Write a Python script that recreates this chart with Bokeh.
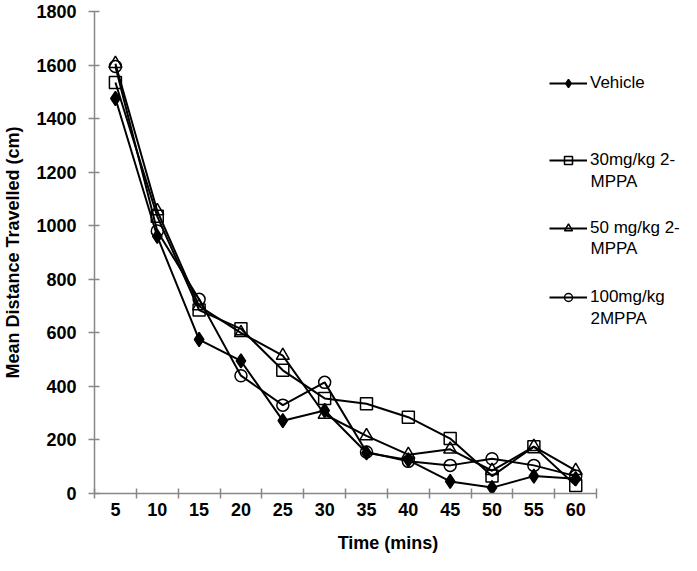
from bokeh.plotting import figure
from bokeh.models import Range1d, FixedTicker, Legend, LegendItem, Label
from bokeh.embed import file_html
from bokeh.resources import INLINE

times = [5, 10, 15, 20, 25, 30, 35, 40, 45, 50, 55, 60]
vehicle = [1475, 960, 575, 495, 272, 310, 152, 125, 45, 22, 65, 55]
mg30 = [1535, 1035, 685, 615, 460, 355, 335, 285, 205, 65, 175, 30]
mg50 = [1605, 1055, 700, 600, 515, 295, 215, 145, 165, 85, 175, 85]
mg100 = [1595, 980, 725, 440, 330, 415, 155, 120, 105, 130, 105, 65]
y_ticks = [0, 200, 400, 600, 800, 1000, 1200, 1400, 1600, 1800]

labels_first = ["Vehicle", "30mg/kg 2-", "50 mg/kg 2-", "100mg/kg"]
labels_second = [None, "MPPA", "MPPA", "2MPPA"]

FONT = "Liberation Sans"
AX = "#878787"

W, H = 681, 555
LEFT, TOP, BOTTOM = 93, 11, 59
AXIS_PX = 503  # width of the category axis in pixels

half = (times[1] - times[0]) / 2
x_start = times[0] - half
x_stop = times[-1] + half
frame_w = W - LEFT
x_end = x_start + (x_stop - x_start) * frame_w / AXIS_PX

p = figure(width=W, height=H, output_backend="svg", toolbar_location=None,
           x_range=Range1d(x_start, x_end), y_range=Range1d(0, 1800),
           min_border_left=LEFT, min_border_right=0, min_border_top=TOP,
           min_border_bottom=BOTTOM)
p.outline_line_color = None
p.xgrid.visible = False
p.ygrid.visible = False

bounds = [t - half for t in times] + [x_stop]

xa = p.xaxis[0]
xa.bounds = (x_start, x_stop)
xa.ticker = FixedTicker(ticks=times, minor_ticks=bounds)
xa.major_tick_in = 0
xa.major_tick_out = 0
xa.minor_tick_in = 5
xa.minor_tick_out = 5
xa.minor_tick_line_color = AX
xa.axis_line_color = AX
xa.axis_line_width = 1.5
xa.minor_tick_line_width = 1.5
xa.major_label_standoff = 4
xa.axis_label = "Time (mins)"
xa.axis_label_standoff = 14

ya = p.yaxis[0]
ya.ticker = FixedTicker(ticks=y_ticks, minor_ticks=[])
ya.major_tick_in = 5
ya.major_tick_out = 6
ya.major_tick_line_color = AX
ya.major_tick_line_width = 1.5
ya.axis_line_color = AX
ya.axis_line_width = 1.5
ya.minor_tick_line_color = None
ya.major_label_standoff = 12
ya.axis_label = "Mean Distance Travelled (cm)"
ya.axis_label_standoff = 10

for ax in (xa, ya):
    ax.major_label_text_font = FONT
    ax.major_label_text_font_style = "bold"
    ax.major_label_text_font_size = "18px"
    ax.major_label_text_color = "black"
    ax.axis_label_text_font = FONT
    ax.axis_label_text_font_style = "bold"
    ax.axis_label_text_font_size = "18px"
    ax.axis_label_text_color = "black"

series = [
    (vehicle, "diamond", 14, "black"),
    (mg30, "square", 12, None),
    (mg50, "triangle", 13, None),
    (mg100, "circle", 12, None),
]

renderer_sets = []
for vals, marker, size, fill in series:
    ln = p.line(times, vals, line_color="black", line_width=2)
    if fill:
        mk = p.scatter(times, vals, marker=marker, size=size, line_color="black",
                       fill_color=fill, line_width=1.5)
    else:
        mk = p.scatter(times, vals, marker=marker, size=size, line_color="black",
                       fill_alpha=0, line_width=1.5)
    renderer_sets.append([ln, mk])

# legend placement (frame screen coordinates)
legend_x = 455
legend_y = [400, 323, 255, 186]
second_y = [None, 312, 245, 175]
LEG_FONT = "17px"

for i, rs in enumerate(renderer_sets):
    lg = Legend(items=[LegendItem(label=labels_first[i], renderers=rs)],
                location=(legend_x, legend_y[i]),
                padding=0, margin=0, border_line_color=None, background_fill_alpha=0,
                glyph_width=38, glyph_height=20, label_height=20, label_standoff=3,
                label_text_font=FONT, label_text_font_size=LEG_FONT, label_text_color="black")
    p.add_layout(lg, "center")
    if labels_second[i]:
        p.add_layout(Label(x=legend_x + 41, y=second_y[i], x_units="screen", y_units="screen",
                           text=labels_second[i], text_font=FONT, text_font_size=LEG_FONT,
                           text_baseline="middle", text_color="black"))

open("out.html", "w").write(file_html(p, INLINE))
